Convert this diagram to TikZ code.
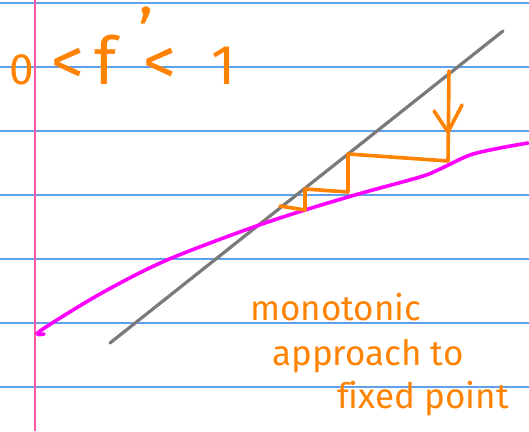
\documentclass[tikz,border=0pt]{standalone}
\usepackage{fontspec}
\setmainfont{Fira Sans}[Ligatures={TeX,NoCommon}]
\definecolor{ruled}{RGB}{95,160,235}
\definecolor{marginpink}{RGB}{255,85,165}
\definecolor{inkorange}{RGB}{255,130,0}
\definecolor{inkmagenta}{RGB}{255,0,255}
\definecolor{inkgray}{RGB}{122,122,122}
\newcommand{\fsz}[2]{{\fontsize{#1}{#1}\selectfont #2}}
\tikzset{
  ruleline/.style={ruled, line width=1.6pt},
  marginline/.style={marginpink, line width=2pt},
  pen/.style={line width=3.6pt, line cap=round, line join=round},
  orangepen/.style={pen, inkorange},
  magentapen/.style={pen, inkmagenta},
  graypen/.style={line width=3.2pt, line cap=round, inkgray},
  handtext/.style={inkorange, anchor=base west, inner sep=0pt, font=\fontsize{35}{35}\selectfont},
}
\begin{document}
\begin{tikzpicture}[x=1pt,y=-1pt]
\useasboundingbox (0,0) rectangle (529,431);
\fill[white] (0,0) rectangle (529,431);
% ruled paper
\foreach \yy in {3,67,131,195,259,323,387} \draw[ruleline] (0,\yy) -- (529,\yy);
\draw[marginline] (35,0) -- (35,431);
% identity line
\coordinate (g1) at (110,343);
\coordinate (g2) at (503,31);
\draw[graypen] (g1) -- (g2);
% function curve
\draw[magentapen] plot[smooth, tension=0.5] coordinates {(44,334) (40,331) (100,294) (167,260) (265,223) (348,197) (420,177) (440,169) (470,155) (500,148) (528,143)};
% staircase (cobweb)
\coordinate (s0) at (280,206);
\coordinate (s1) at (305,210);
\coordinate (s2) at (305,189);
\coordinate (s3) at (348,192);
\coordinate (s4) at (348,154);
\coordinate (s5) at (448,161);
\coordinate (s6) at (449,71);
\draw[orangepen] (s0) -- (s1) -- (s2) -- (s3) -- (s4) -- (s5) -- (s6);
% arrowhead
\coordinate (a0) at (448,132);
\coordinate (a1) at (434,111);
\coordinate (a2) at (462,105);
\draw[orangepen] (a1) -- (a0) -- (a2);
% text
\node[handtext] (cond) at (9,84) {\fsz{44}{0}\hspace{18pt}\fsz{66}{<}\hspace{10pt}\fsz{66}{f\hspace{22pt}\raisebox{28pt}{'}}\hspace{-10pt}\fsz{66}{<}\hspace{35pt}\fsz{56}{1}};
\node[handtext] (t1) at (250,320) {monotonic};
\node[handtext] (t2) at (272,365) {approach to};
\node[handtext] (t3) at (337,408) {fixed point};
\end{tikzpicture}
\end{document}
